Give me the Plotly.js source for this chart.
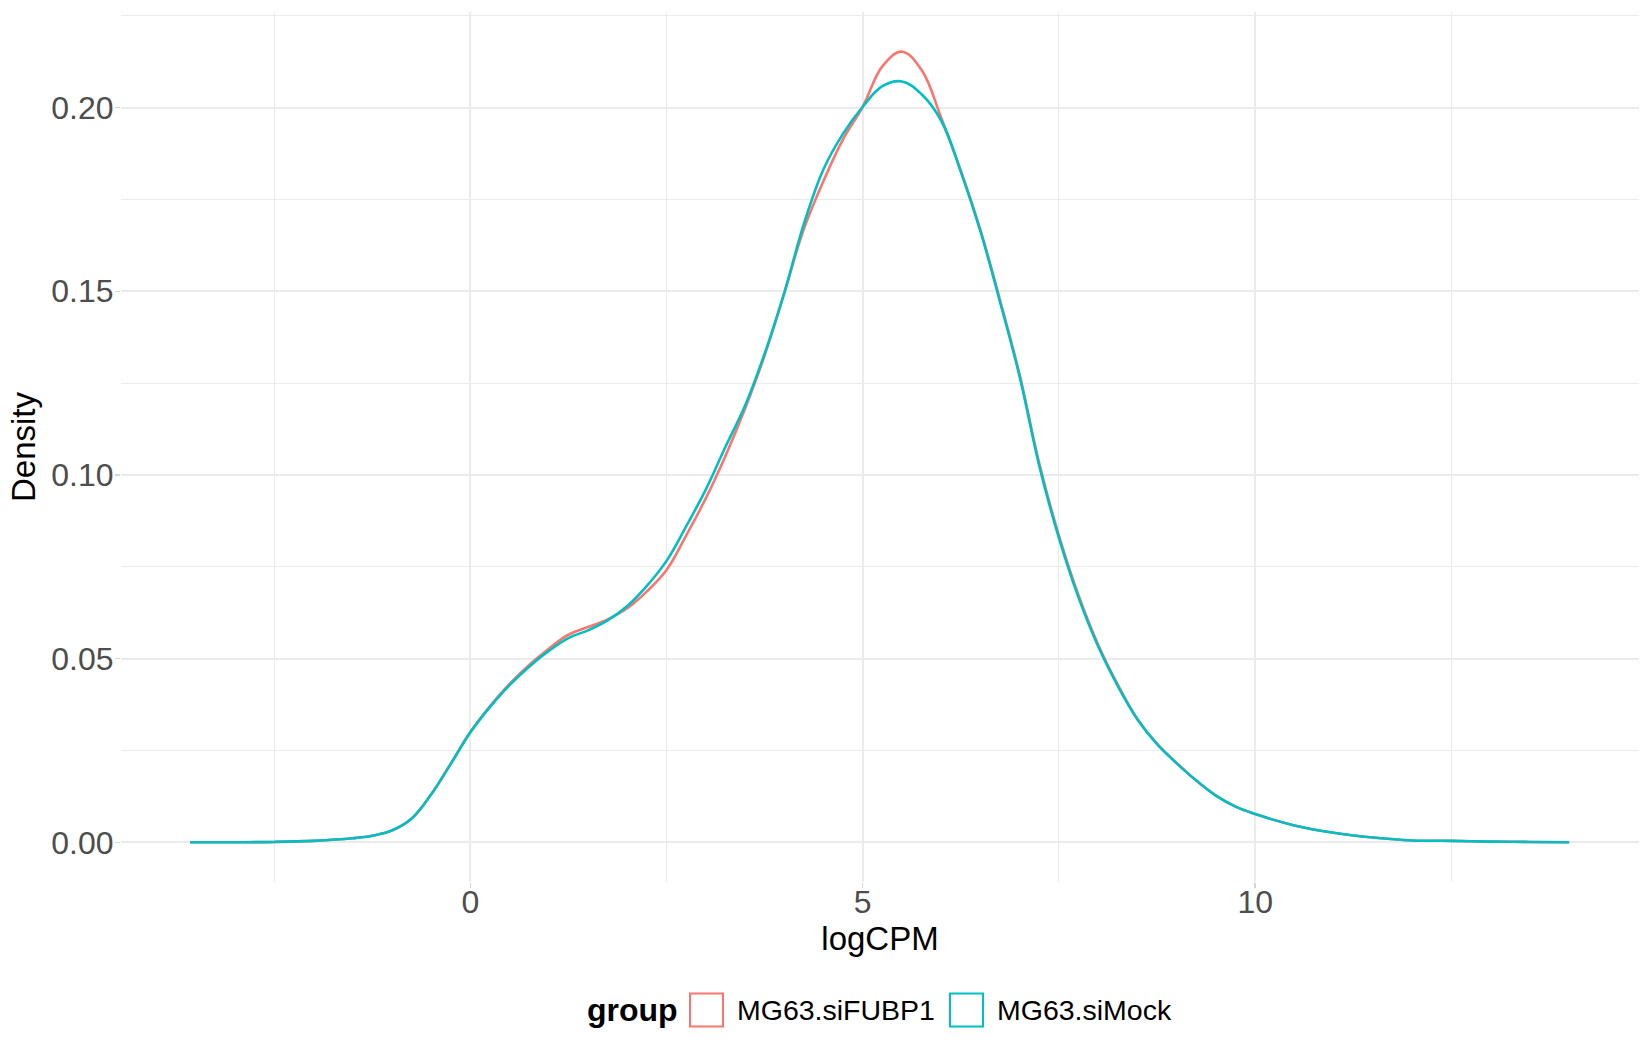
<!DOCTYPE html>
<html>
<head>
<meta charset="utf-8">
<script src="https://cdn.plot.ly/plotly-3.0.1.min.js"></script>
<style>
  html, body { margin: 0; padding: 0; background: #ffffff; }
  #chart { width: 1650px; height: 1050px; }
</style>
</head>
<body>
<div id="chart"></div>
<script>
// values
const logCPM = [-3.57, -3, -2.5, -2, -1.5, -1.25, -1, -0.75, -0.5, -0.25,
  0, 0.25, 0.5, 0.75, 1, 1.25, 1.5, 1.75, 2, 2.25,
  2.5, 2.75, 3, 3.25, 3.5, 3.75, 4, 4.25, 4.5, 4.75,
  5, 5.25, 5.5, 5.75, 6, 6.25, 6.5, 6.75, 7, 7.25,
  7.5, 7.75, 8, 8.25, 8.5, 8.75, 9, 9.25, 9.5, 9.75,
  10, 10.5, 11, 11.5, 12, 12.5, 13, 13.5, 14.0];

const densityFUBP1 = [0, 0.00002, 0.0001, 0.0004, 0.0011, 0.0018, 0.0032, 0.0064, 0.0130, 0.0214,
  0.0300, 0.0370, 0.0431, 0.0483, 0.0527, 0.0565, 0.0586, 0.0607, 0.0637, 0.0683,
  0.0741, 0.0835, 0.0936, 0.1051, 0.1180, 0.1325, 0.1495, 0.1669, 0.1800, 0.1914,
  0.2002, 0.2112, 0.2152, 0.2102, 0.1972, 0.1828, 0.1666, 0.1475, 0.1272, 0.1030,
  0.0835, 0.0672, 0.0538, 0.0429, 0.0336, 0.0268, 0.0216, 0.0168, 0.0127, 0.0097,
  0.0077, 0.0046, 0.0026, 0.0013, 0.0005, 0.0004, 0.0002, 0.0001, 0];

const densityMock = [0, 0.00002, 0.0001, 0.0004, 0.0011, 0.0018, 0.0032, 0.0064, 0.0130, 0.0213,
  0.0299, 0.0368, 0.0428, 0.0478, 0.0521, 0.0556, 0.0577, 0.0604, 0.0643, 0.0698,
  0.0766, 0.0860, 0.0960, 0.1076, 0.1188, 0.1330, 0.1495, 0.1683, 0.1832, 0.1929,
  0.2002, 0.2058, 0.2071, 0.2036, 0.1964, 0.1825, 0.1663, 0.1470, 0.1267, 0.1024,
  0.0828, 0.0666, 0.0533, 0.0425, 0.0334, 0.0267, 0.0215, 0.0168, 0.0127, 0.0097,
  0.0077, 0.0046, 0.0026, 0.0013, 0.0005, 0.0004, 0.0002, 0.0001, 0];

const groupNames = ["MG63.siFUBP1", "MG63.siMock"];
const legendTitle = "group";
const xTitle = "logCPM";
const yTitle = "Density";

const THEME = {
  ink: "#000000",
  tickInk: "#4d4d4d",
  grid: "#ebebeb",
  tick: "#d4d4d4",
  series: ["#F8766D", "#00BFC4"],
  fontFamily: "\"Liberation Sans\", Arial, sans-serif",
};

// panel box in pixels (1650 x 1050 page)
const W = 1650, H = 1050;
const PANEL = { left: 121, right: 1639, top: 11.5, bottom: 882 };

function px2paperX(px) {
  return (px - PANEL.left) / (PANEL.right - PANEL.left);
}
function px2paperY(py) {
  return (PANEL.bottom - py) / (PANEL.bottom - PANEL.top);
}

function densityTrace(y, name, color) {
  return {
    type: "scatter",
    mode: "lines",
    x: logCPM,
    y,
    name,
    line: { color, width: 2.6, shape: "spline", smoothing: 1.1 },
    showlegend: false,
    hoverinfo: "skip",
  };
}

// ggplot-like boxed legend keys, laid out under the panel
function buildLegend() {
  const shapes = [];
  const annotations = [];
  const rowY = 1010;
  annotations.push({
    xref: "paper", yref: "paper",
    x: px2paperX(585), y: px2paperY(rowY),
    xanchor: "left", yanchor: "middle",
    text: "<b>" + legendTitle + "</b>",
    showarrow: false,
    font: { family: THEME.fontFamily, size: 32, color: THEME.ink },
  });
  const boxLeft = [690, 950];
  groupNames.forEach((name, i) => {
    const x0 = boxLeft[i];
    shapes.push({
      type: "rect", xref: "paper", yref: "paper",
      x0: px2paperX(x0), x1: px2paperX(x0 + 33),
      y0: px2paperY(rowY - 16.5), y1: px2paperY(rowY + 16.5),
      line: { color: THEME.series[i], width: 2 },
      fillcolor: "#ffffff",
    });
    annotations.push({
      xref: "paper", yref: "paper",
      x: px2paperX(x0 + 45), y: px2paperY(rowY),
      xanchor: "left", yanchor: "middle",
      text: name,
      showarrow: false,
      font: { family: THEME.fontFamily, size: 28.5, color: THEME.ink },
    });
  });
  return { shapes, annotations };
}

const traces = [
  densityTrace(densityFUBP1, groupNames[0], THEME.series[0]),
  densityTrace(densityMock, groupNames[1], THEME.series[1]),
];

const legend = buildLegend();

const axisCommon = {
  showline: false,
  zeroline: false,
  showgrid: true,
  gridcolor: THEME.grid,
  gridwidth: 2,
  ticks: "outside",
  ticklen: 5,
  tickwidth: 1.4,
  tickcolor: THEME.tick,
  tickfont: { family: THEME.fontFamily, size: 32, color: THEME.tickInk },
  fixedrange: true,
};

const layout = {
  width: W,
  height: H,
  paper_bgcolor: "#ffffff",
  plot_bgcolor: "#ffffff",
  showlegend: false,
  margin: { l: PANEL.left, r: W - PANEL.right, t: PANEL.top, b: H - PANEL.bottom, pad: 0 },
  font: { family: THEME.fontFamily, color: THEME.ink },
  xaxis: {
    ...axisCommon,
    range: [-4.45, 14.89],
    tickmode: "linear",
    tick0: 0,
    dtick: 5,
    ticklabelstandoff: -13,
    minor: { showgrid: true, gridcolor: THEME.grid, gridwidth: 1, dtick: 2.5, tick0: 0, ticks: "" },
    title: { text: xTitle, font: { family: THEME.fontFamily, size: 33, color: THEME.ink }, standoff: 6 },
  },
  yaxis: {
    ...axisCommon,
    range: [-0.0108, 0.2260],
    tickmode: "linear",
    tick0: 0,
    dtick: 0.05,
    tickformat: ".2f",
    ticklabelstandoff: -5,
    minor: { showgrid: true, gridcolor: THEME.grid, gridwidth: 1, dtick: 0.025, tick0: 0, ticks: "" },
    title: { text: yTitle, font: { family: THEME.fontFamily, size: 33, color: THEME.ink }, standoff: 5 },
  },
  shapes: legend.shapes,
  annotations: legend.annotations,
};

Plotly.newPlot("chart", traces, layout, { displayModeBar: false, staticPlot: true });
</script>
</body>
</html>
